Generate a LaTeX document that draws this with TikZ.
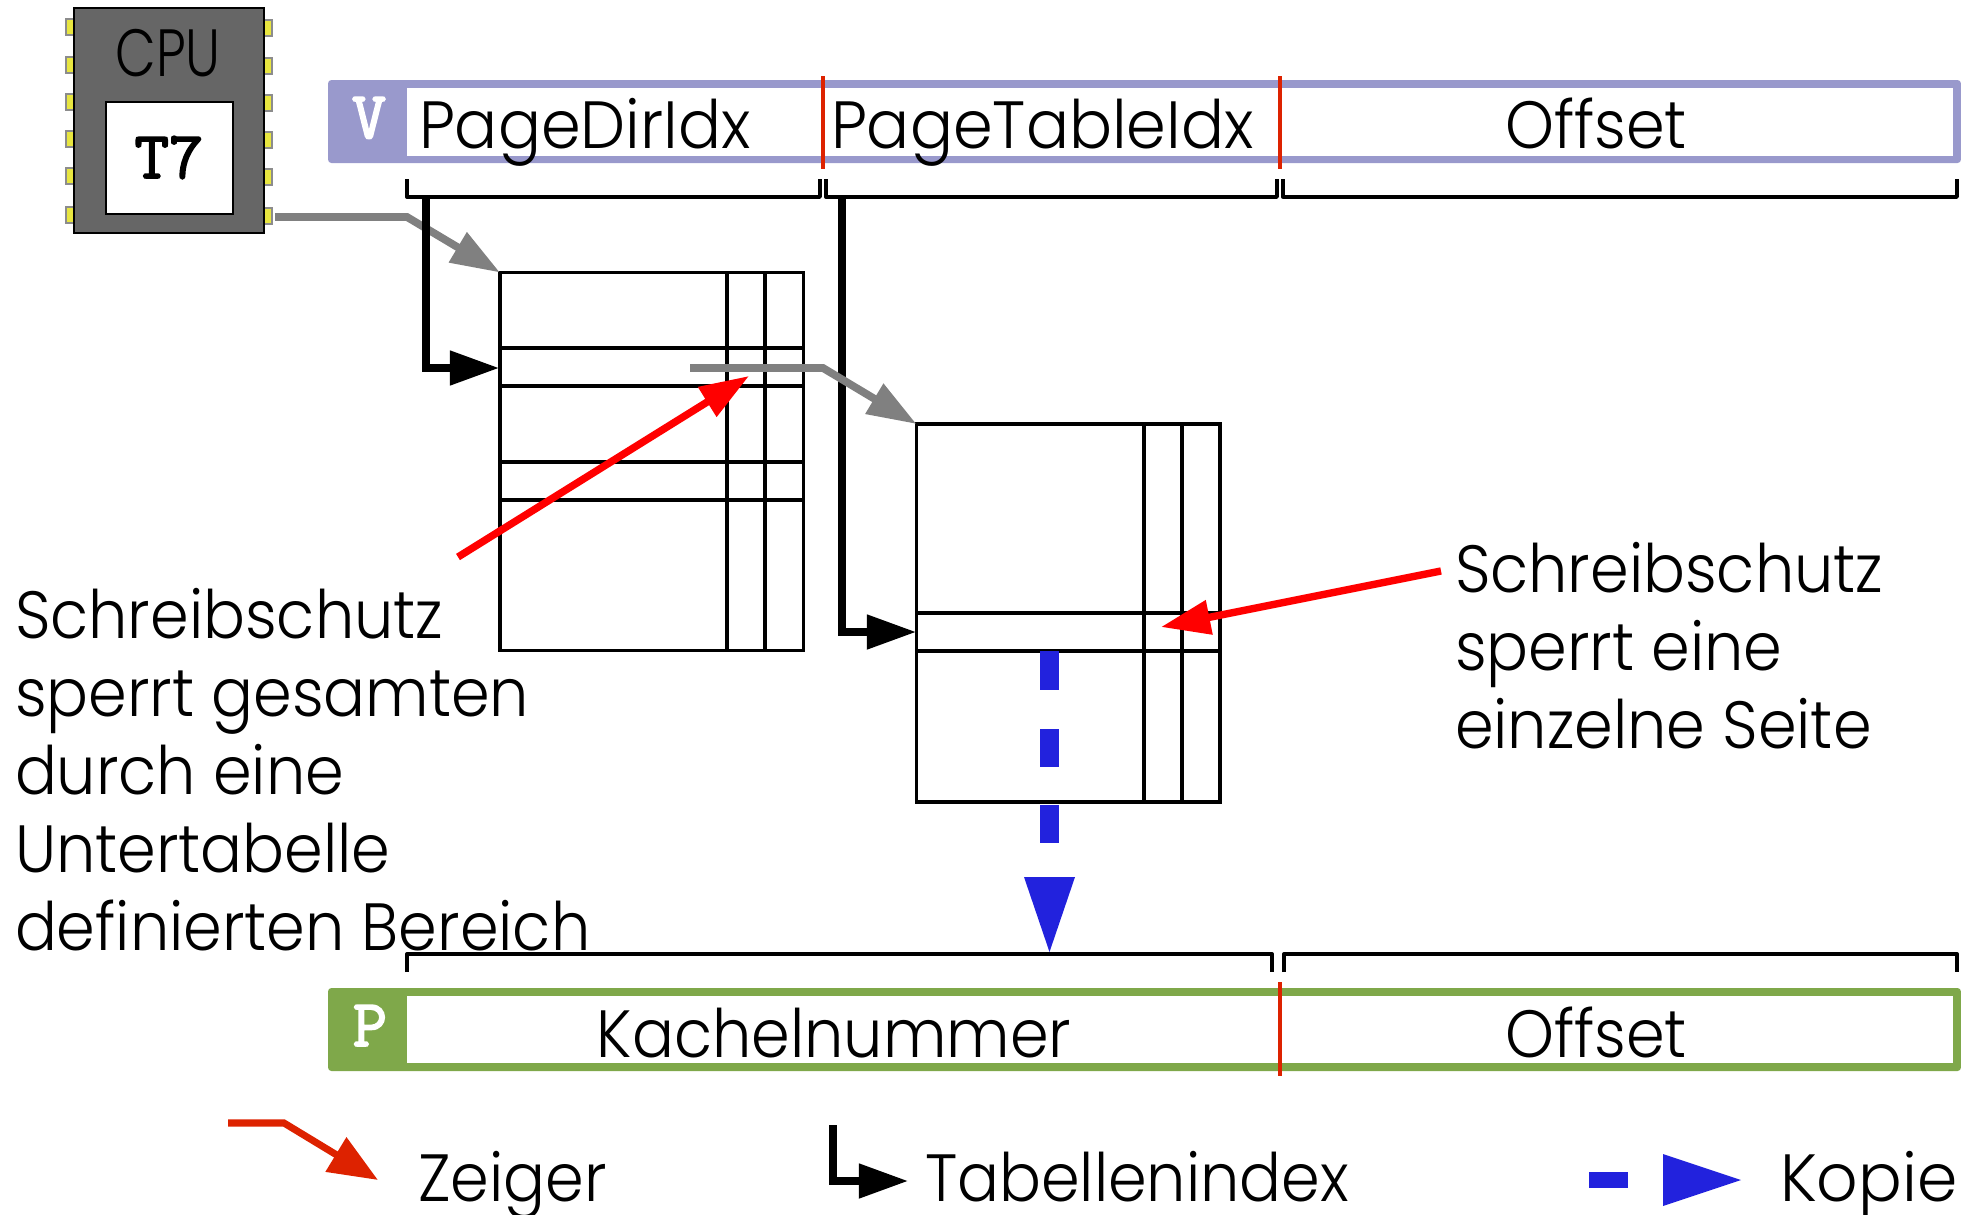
\documentclass[tikz,border=0pt]{standalone}
\usepackage{fontspec}
\setmainfont[FakeStretch=0.93]{Poppins Light}
\newfontfamily\idxfont[FakeStretch=0.955]{Poppins Light}
\newfontfamily\cpufont[FakeStretch=0.79]{Poppins Light}
\newfontfamily\kopfont[FakeStretch=0.97]{Poppins Light}
\newfontfamily\heavymono[FakeBold=2.5]{Latin Modern Mono}
\usetikzlibrary{arrows.meta,calc}
\definecolor{vbarc}{HTML}{9999CC}
\definecolor{pbarc}{HTML}{7FA84A}
\definecolor{chipc}{HTML}{666666}
\definecolor{pinc}{HTML}{E8E640}
\definecolor{divc}{HTML}{DD2200}
\definecolor{copyc}{HTML}{2222DD}
\definecolor{ptrc}{HTML}{808080}
\tikzset{
  x=0.01cm,y=-0.01cm,
  every node/.style={outer sep=0pt},
  lbl/.style={inner sep=0pt,anchor=base west,font=\fontsize{19}{22.2}\selectfont},
  lblc/.style={lbl,anchor=base},
  multi/.style={inner sep=0pt,anchor=north west,align=left,font=\fontsize{19}{22.2}\selectfont},
  mono/.style={inner sep=0pt,anchor=base,font=\heavymono\fontsize{19}{20}\selectfont},
  tab/.style={draw=black,line width=1pt,anchor=north west,inner sep=0pt,minimum width=3.035cm,minimum height=3.78cm},
  grid/.style={draw=black,line width=1pt},
  brack/.style={draw=black,line width=0.95pt,line join=round},
  bar/.style={anchor=north west,inner sep=0pt,minimum width=16.32cm,rounded corners=1pt},
  inner/.style={anchor=north west,inner sep=0pt,fill=white,minimum width=15.45cm,minimum height=0.675cm},
  divider/.style={draw=divc,line width=0.9pt},
  ptr/.style={draw=ptrc,line width=2.2pt,-{Triangle[length=14pt,width=9.5pt,fill=ptrc]}},
  idx/.style={draw=black,line width=2pt,-{Triangle[length=14pt,width=9.5pt,fill=black]}},
  red/.style={draw=red,line width=2.1pt,-{Triangle[length=14pt,width=9.5pt,fill=red]}},
  pin/.style={draw=black!45,line width=0.3pt,fill=pinc,anchor=center,inner sep=0pt,minimum width=0.08cm,minimum height=0.16cm},
}
\begin{document}
\begin{tikzpicture}
\useasboundingbox (0,0) rectangle (1978,1215);
% CPU
\foreach \n/\y in {1/27,2/65,3/102,4/139,5/176,6/215}{
  \node[pin] (pl\n) at (70,\y) {};
  \node[pin] (pr\n) at (268,\y+1) {};
}
\node[draw=black,line width=0.4pt,fill=chipc,anchor=north west,inner sep=0pt,minimum width=1.90cm,minimum height=2.25cm] (chip) at (74,8) {};
\node[draw=black,line width=0.4pt,fill=white,anchor=north west,inner sep=0pt,minimum width=1.27cm,minimum height=1.12cm] (core) at (106,102) {};
\node[lblc,font=\cpufont\fontsize{19}{22.2}\selectfont] (cpu) at (168,76) {CPU};
\node[mono] (t7) at (169,178) {T7};
% bars
\node[bar,fill=vbarc,minimum height=0.83cm] (vbar) at (328,80) {};
\node[inner] (vin) at (407,88) {};
\node[mono,text=white] (vl) at (369,138) {V};
\node[bar,fill=pbarc,minimum height=0.83cm] (pbar) at (328,988) {};
\node[inner] (pin) at (407,995.5) {};
\node[mono,text=white] (pl) at (370,1046) {P};
\node[lbl,font=\idxfont\fontsize{19}{22.2}\selectfont] (pd) at (419,148) {PageDirIdx};
\node[lbl,font=\idxfont\fontsize{19}{22.2}\selectfont] (pt) at (831,148) {PageTableIdx};
\node[lblc] (of1) at (1596,148) {Offset};
\node[lblc] (kn) at (834,1057) {Kachelnummer};
\node[lblc] (of2) at (1596,1057) {Offset};
\draw[divider] (823,76) -- (823,169);
\draw[divider] (1280,76) -- (1280,169);
\draw[divider] (1280,982) -- (1280,1076);
% brackets
\draw[brack] (407,179) -- (407,197) -- (820,197) -- (820,179);
\draw[brack] (826,179) -- (826,197) -- (1277,197) -- (1277,179);
\draw[brack] (1283,179) -- (1283,197) -- (1957,197) -- (1957,179);
\draw[brack] (407,972) -- (407,954) -- (1272,954) -- (1272,972);
\draw[brack] (1284,972) -- (1284,954) -- (1957,954) -- (1957,972);
% tables
\node[tab] (dir) at (500,272.5) {};
\foreach \y in {348,386,462,500}{\draw[grid] (dir.west |- 0,\y) -- (dir.east |- 0,\y);}
\foreach \x in {727,765}{\draw[grid] (\x,0 |- dir.north) -- (\x,0 |- dir.south);}
\node[tab] (pag) at (916.5,424) {};
\foreach \y in {613,651}{\draw[grid] (pag.west |- 0,\y) -- (pag.east |- 0,\y);}
\foreach \x in {1144,1182}{\draw[grid] (\x,0 |- pag.north) -- (\x,0 |- pag.south);}
% connectors
\coordinate (cpuout) at (275,217);
\coordinate (cpubend) at (407,217);
\draw[ptr] (cpuout) -- (cpubend) -- (dir.north west);
\coordinate (idx1s) at (426,198);
\coordinate (idx1t) at (499,368);
\draw[idx] (idx1s) |- (idx1t);
\coordinate (idx2s) at (842,198);
\coordinate (idx2t) at (916,632);
\draw[idx] (idx2s) |- (idx2t);
\coordinate (p2s) at (690,368);
\coordinate (p2b) at (823,368);
\draw[ptr] (p2s) -- (p2b) -- (pag.north west);
\coordinate (r1s) at (458,557);
\coordinate (r1t) at (749,376);
\draw[red] (r1s) -- (r1t);
\coordinate (r2s) at (1441,571);
\coordinate (r2t) at (1161,627);
\draw[red] (r2s) -- (r2t);
% copy
\fill[copyc] (1040,651) rectangle (1059,690);
\fill[copyc] (1040,729) rectangle (1059,767);
\fill[copyc] (1040,805) rectangle (1059,843);
\fill[copyc] (1024,877) -- (1075,877) -- (1049.5,952) -- cycle;
% texts
\node[multi] (t1) at (15,588) {Schreibschutz\\sperrt gesamten\\durch eine\\Untertabelle\\definierten Bereich};
\node[multi] (t2) at (1455,542) {Schreibschutz\\sperrt eine\\einzelne Seite};
% legend
\coordinate (l1a) at (228,1123);
\coordinate (l1b) at (284,1123);
\coordinate (l1c) at (378,1180);
\draw[draw=divc,line width=2pt,-{Triangle[length=14pt,width=11pt,fill=divc]}] (l1a) -- (l1b) -- (l1c);
\node[lbl] (lz) at (418,1201) {Zeiger};
\coordinate (l2a) at (833,1125);
\coordinate (l2b) at (908,1181);
\draw[idx] (l2a) |- (l2b);
\node[lbl] (lt) at (925,1201) {Tabellenindex};
\fill[copyc] (1589,1172) rectangle (1628,1188);
\fill[copyc] (1663,1154) -- (1741,1180) -- (1663,1206) -- cycle;
\node[lbl,font=\kopfont\fontsize{19}{22.2}\selectfont] (lk) at (1780,1201) {Kopie};
\end{tikzpicture}
\end{document}
